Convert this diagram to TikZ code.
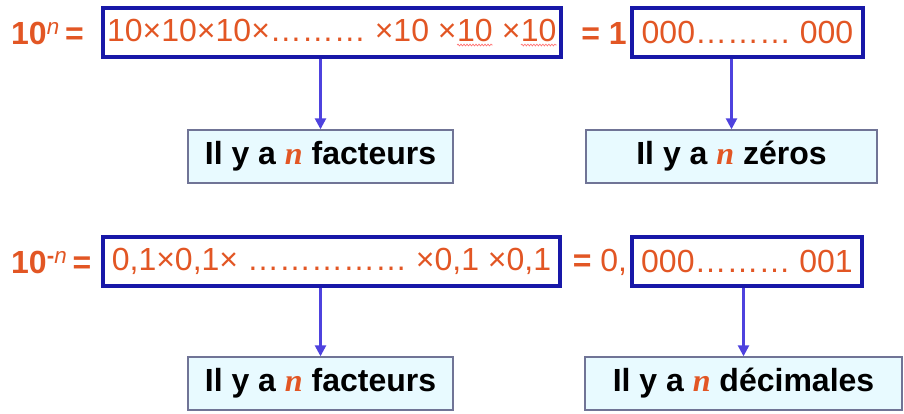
\documentclass[tikz,border=0pt]{standalone}
\usepackage{fontspec}
\setmainfont{Liberation Sans}
\newfontfamily\serifit{Liberation Serif}
\usetikzlibrary{arrows.meta,decorations.pathmorphing}
\definecolor{orangered}{RGB}{226,86,36}
\definecolor{boxblue}{RGB}{24,24,168}
\definecolor{arrowblue}{RGB}{78,66,222}
\definecolor{paleblue}{RGB}{232,250,255}
\definecolor{greyblue}{RGB}{112,116,150}
\newcommand\squig[1]{\tikz[baseline=(sq.base)]{\node[draw=none,fill=none,inner sep=0pt,outer sep=0pt,minimum width=0pt,minimum height=0pt,anchor=center] (sq) {#1};
	\draw[red!55,line width=0.7pt,decorate,decoration={snake,amplitude=0.9pt,segment length=3pt}] ([yshift=-4pt]sq.base west) -- ([yshift=-4pt]sq.base east);}}
\newcommand\nvar{{\serifit\bfseries\itshape\color{orangered}n}}

\begin{document}
\begin{tikzpicture}[x=1pt,y=-1pt,
	eqtext/.style={text=orangered,inner sep=0pt,font=\fontsize{32}{38}\selectfont},
	framebox/.style={draw=boxblue,line width=3.4pt,inner sep=0pt,text=orangered,font=\fontsize{32}{38}\selectfont},
	infobox/.style={draw=greyblue,fill=paleblue,line width=1.4pt,minimum height=53pt,inner sep=0pt,font=\bfseries\fontsize{32}{38}\selectfont},
	pointer/.style={draw=arrowblue,line width=2.5pt,-{Triangle[length=11pt,width=11pt]}}]
	%%%%% START %%%%%
	\useasboundingbox (0,0) rectangle (904,414);
	
	% puissances positives
	\node[eqtext,anchor=west,font=\bfseries\fontsize{32}{38}\selectfont] (lhsA) at (11,33) {10\textsuperscript{\itshape\mdseries n}\,=};
	\node[framebox,minimum width=458pt,minimum height=49pt] (prodA) at (332,32.5) {10\texttimes10\texttimes10\texttimes………\ \texttimes10 \texttimes\squig{10} \texttimes\squig{10}};
	\node[eqtext,font=\bfseries\fontsize{32}{38}\selectfont] (eqA) at (604,33) {= 1};
	\node[framebox,minimum width=231pt,minimum height=49pt] (zerA) at (747.5,32.5) {000………\ 000};
	
	\node[infobox,minimum width=265pt] (factA) at (320.5,156.5) {Il y a \nvar{} facteurs};
	\node[infobox,minimum width=291pt] (countA) at (731.5,156.5) {Il y a \nvar{} zéros};
	
	\draw[pointer] (prodA.south -| factA.north) -- (factA.north);
	\draw[pointer] (zerA.south -| countA.north) -- (countA.north);
	
	% puissances negatives
	\node[eqtext,anchor=west,font=\bfseries\fontsize{32}{38}\selectfont] (lhsB) at (11,262) {10\textsuperscript{-\itshape\mdseries n}\,=};
	\node[framebox,minimum width=457pt,minimum height=49pt] (prodB) at (331.5,261.5) {0,1\texttimes0,1\texttimes\ ……………\ \texttimes0,1 \texttimes0,1};
	\node[eqtext] (eqB) at (600,262) {\textbf{=} 0,};
	\node[framebox,minimum width=230pt,minimum height=49pt] (zerB) at (747,261.5) {000………\ 001};
	
	\node[infobox,minimum width=265pt] (factB) at (320.5,383.5) {Il y a \nvar{} facteurs};
	\node[infobox,minimum width=317pt] (countB) at (743.5,383.5) {Il y a \nvar{} décimales};
	
	\draw[pointer] (prodB.south -| factB.north) -- (factB.north);
	\draw[pointer] (zerB.south -| countB.north) -- (countB.north);
	%%%%% END %%%%%
\end{tikzpicture}
\end{document}
